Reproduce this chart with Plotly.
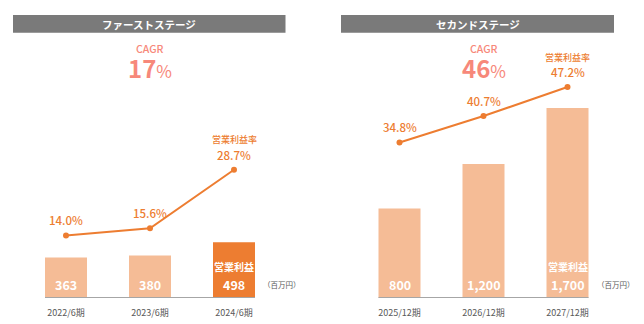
import plotly.graph_objects as go

W, H = 644, 324
FONT = "Noto Sans CJK JP"

# ---- data ----
stage_titles = ["ファーストステージ", "セカンドステージ"]
cagr_values = ["17", "46"]
cats_first = ["2022/6期", "2023/6期", "2024/6期"]
profit_first = [363, 380, 498]
margin_first = [14.0, 15.6, 28.7]
cats_second = ["2025/12期", "2026/12期", "2027/12期"]
profit_second = [800, 1200, 1700]
margin_second = [34.8, 40.7, 47.2]
bar_label = "営業利益"
line_label = "営業利益率"
unit_label = "（百万円）"

# ---- style ----
LIGHT = "#F5BC96"
DARK = "#ED7D31"
LINE = "#ED7D31"
CAGR_COL = "#F7887A"
HEADER = "#7A7A7A"
GRAY_TXT = "#595959"

def px_x(p):
    return p / W

def px_y(p):
    return 1 - p / H

base_px, top_px = 298, 24
ydom = [px_y(base_px), px_y(top_px)]
plot_h = base_px - top_px
bar_range = [0, plot_h * 8.95]
pct_range = [0, plot_h / 4.47]

fig = go.Figure()

panels = [
    dict(cats=cats_first, bars=profit_first, pct=margin_first, colors=[LIGHT, LIGHT, DARK],
         xa="x", ya="y", ya2="y2", dom=[24, 276], title=stage_titles[0], hdr=[13, 285.5],
         cagr=cagr_values[0]),
    dict(cats=cats_second, bars=profit_second, pct=margin_second, colors=[LIGHT, LIGHT, LIGHT],
         xa="x2", ya="y3", ya2="y4", dom=[357.5, 609.5], title=stage_titles[1], hdr=[341, 614],
         cagr=cagr_values[1]),
]

shapes = []
annotations = []
for i, p in enumerate(panels):
    fig.add_trace(go.Bar(x=p["cats"], y=p["bars"], marker=dict(color=p["colors"], line=dict(width=0)),
                         width=0.5, xaxis=p["xa"], yaxis=p["ya"], hoverinfo="skip"))
    fig.add_trace(go.Scatter(x=p["cats"], y=p["pct"], mode="lines+markers",
                             line=dict(color=LINE, width=2), marker=dict(color=LINE, size=6),
                             xaxis=p["xa"], yaxis=p["ya2"], hoverinfo="skip"))
    # baseline
    shapes.append(dict(type="line", xref=p["xa"], yref=p["ya"], x0=-0.25, x1=2.25, y0=0, y1=0,
                       line=dict(color="#A6A6A6", width=2), layer="above"))
    # header bar
    shapes.append(dict(type="rect", xref="paper", yref="paper", x0=px_x(p["hdr"][0]), x1=px_x(p["hdr"][1]),
                       y0=px_y(32.7), y1=px_y(15), fillcolor=HEADER, line=dict(width=0), layer="below"))
    annotations.append(dict(xref="paper", yref="paper", x=px_x((p["hdr"][0] + p["hdr"][1]) / 2), y=px_y(24),
                            text="<b>" + p["title"] + "</b>", showarrow=False,
                            font=dict(color="white", size=10.5, family=FONT), xanchor="center", yanchor="middle"))
    # CAGR
    annotations.append(dict(xref=p["xa"], yref="paper", x=p["cats"][1], y=px_y(48),
                            text="CAGR", showarrow=False,
                            font=dict(color=CAGR_COL, size=10.5, family=FONT, weight=500),
                            xanchor="center", yanchor="middle"))
    annotations.append(dict(xref=p["xa"], yref="paper", x=p["cats"][1], y=px_y(67.5),
                            text="<b>" + p["cagr"] + "</b><span style='font-size:17px'>%</span>",
                            showarrow=False, font=dict(color=CAGR_COL, size=24, family=FONT),
                            xanchor="center", yanchor="middle"))
    # line value labels
    for j, (c, v) in enumerate(zip(p["cats"], p["pct"])):
        annotations.append(dict(xref=p["xa"], yref=p["ya2"], x=c, y=v, yshift=15,
                                text="%.1f%%" % v, showarrow=False,
                                font=dict(color=LINE, size=11.5, family=FONT, weight=500),
                                xanchor="center", yanchor="middle"))
    annotations.append(dict(xref=p["xa"], yref=p["ya2"], x=p["cats"][2], y=p["pct"][2], yshift=30,
                            text=line_label, showarrow=False,
                            font=dict(color=LINE, size=9, family=FONT, weight=500),
                            xanchor="center", yanchor="middle"))
    # bar value labels
    for j, (c, v) in enumerate(zip(p["cats"], p["bars"])):
        annotations.append(dict(xref=p["xa"], yref=p["ya"], x=c, y=0, yshift=14,
                                text="<b>" + format(v, ",") + "</b>", showarrow=False,
                                font=dict(color="white", size=12.5, family=FONT),
                                xanchor="center", yanchor="middle"))
    annotations.append(dict(xref=p["xa"], yref=p["ya"], x=p["cats"][2], y=0, yshift=32,
                            text="<b>" + bar_label + "</b>", showarrow=False,
                            font=dict(color="white", size=10, family=FONT),
                            xanchor="center", yanchor="middle"))
    annotations.append(dict(xref=p["xa"], yref=p["ya"], x=2.25, y=0, yshift=14, xshift=6,
                            text=unit_label, showarrow=False,
                            font=dict(color=GRAY_TXT, size=7.5, family=FONT),
                            xanchor="left", yanchor="middle"))

common_x = dict(showgrid=False, zeroline=False, showline=False, ticks="", range=[-0.5, 2.5],
                tickfont=dict(size=9, color=GRAY_TXT, family=FONT), ticklabelstandoff=8, fixedrange=True)
common_y = dict(showgrid=False, zeroline=False, showline=False, showticklabels=False, fixedrange=True)

fig.update_layout(
    width=W, height=H, margin=dict(l=0, r=0, t=0, b=0),
    paper_bgcolor="white", plot_bgcolor="rgba(0,0,0,0)", showlegend=False,
    font=dict(family=FONT),
    xaxis=dict(common_x, domain=[px_x(24), px_x(276)], anchor="y"),
    xaxis2=dict(common_x, domain=[px_x(357.5), px_x(609.5)], anchor="y3"),
    yaxis=dict(common_y, domain=ydom, range=bar_range, anchor="x"),
    yaxis2=dict(common_y, range=pct_range, overlaying="y", anchor="x"),
    yaxis3=dict(common_y, domain=ydom, range=bar_range, anchor="x2"),
    yaxis4=dict(common_y, range=pct_range, overlaying="y3", anchor="x2"),
    shapes=shapes, annotations=annotations,
)

fig.write_html("out.html")
